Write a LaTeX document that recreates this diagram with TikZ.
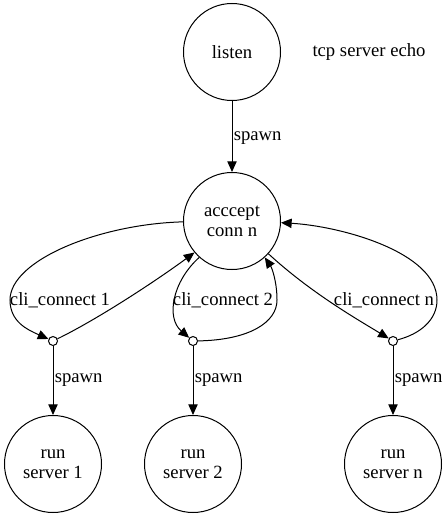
\documentclass[tikz,border=0pt]{standalone}
\usepackage{fontspec}
\setmainfont{Liberation Serif}
\usetikzlibrary{arrows.meta}

\begin{document}
\begin{tikzpicture}[x=0.75pt,y=-0.75pt,
	state/.style={draw,circle,line width=0.75pt,minimum size=72.75pt,inner sep=0pt,align=center,font=\fontsize{14}{15}\selectfont},
	fork/.style={draw,circle,line width=0.75pt,fill=white,minimum size=6.75pt,inner sep=0pt},
	lbl/.style={font=\fontsize{14}{15}\selectfont,inner sep=1pt},
	edge/.style={-{Triangle[length=8pt,width=7pt]},line width=0.75pt}]
		\useasboundingbox (0,0) rectangle (447,517);
		
		% processus
		\node[state] (listen) at (232,52) {listen};
		\node[lbl] (title) at (369,52) {tcp server echo};
		\node[state] (accept) at (232,221) {acccept\\conn n};
		\node[state] (run1) at (53,464) {run\\server 1};
		\node[state] (run2) at (193,464) {run\\server 2};
		\node[state] (runn) at (393,464) {run\\server n};
		
		% fourches
		\node[fork] (p1) at (53,341) {};
		\node[fork] (p2) at (193,341) {};
		\node[fork] (pn) at (393,341) {};
		
		\draw[edge] (listen) -- node[lbl,right,yshift=-1.5pt] (sp0) {spawn} (accept);
		\draw[edge] (p1) -- node[lbl,right] (sp1) {spawn} (run1);
		\draw[edge] (p2) -- node[lbl,right] (sp2) {spawn} (run2);
		\draw[edge] (pn) -- node[lbl,right] (spn) {spawn} (runn);
		
		% connexions
		\draw[edge] (accept.181) .. controls (100,224) and (10,260) .. (10,300) .. controls (10,322) and (28,330) .. (p1);
		\draw[edge] (p1) .. controls (100,318) and (160,278) .. (accept.220);
		\draw[edge] (accept.228) .. controls (172,282) and (166,318) .. (p2);
		\draw[edge] (p2) .. controls (250,340) and (277,322) .. (277,300) .. controls (277,282) and (272,268) .. (accept.312);
		\draw[edge] (accept.318) .. controls (310,292) and (355,318) .. (pn);
		\draw[edge] (pn) .. controls (420,334) and (437,320) .. (437,300) .. controls (437,252) and (340,226) .. (accept.358);
		
		\node[lbl] (c1) at (60,300) {cli\_connect 1};
		\node[lbl] (c2) at (223,300) {cli\_connect 2};
		\node[lbl] (cn) at (384,300) {cli\_connect n};
\end{tikzpicture}
\end{document}
